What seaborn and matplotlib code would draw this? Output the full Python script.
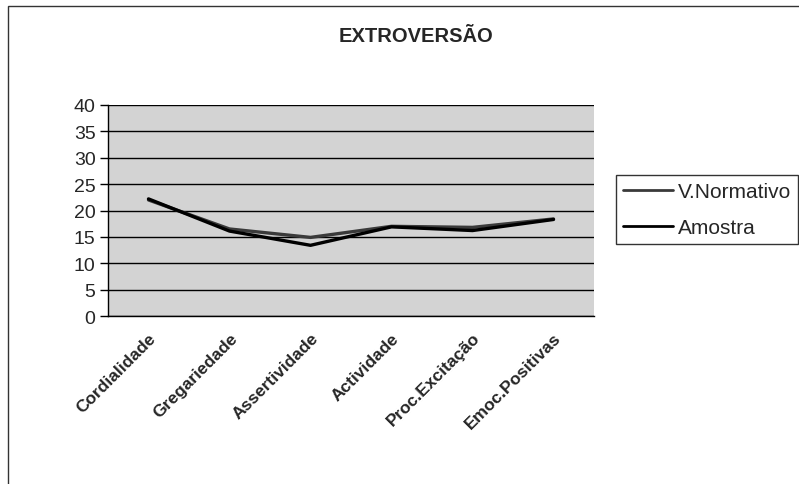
import seaborn as sns
import pandas as pd
import matplotlib.pyplot as plt
from matplotlib.patches import Rectangle
from matplotlib.lines import Line2D

categories = ['Cordialidade', 'Gregariedade', 'Assertividade', 'Actividade',
              'Proc.Excitação', 'Emoc.Positivas']
v_normativo = [22.0, 16.5, 14.9, 17.0, 16.8, 18.4]
amostra = [22.2, 16.1, 13.4, 16.9, 16.2, 18.3]
y_ticks = [0, 5, 10, 15, 20, 25, 30, 35, 40]

rows = []
for i, cat in enumerate(categories):
    rows.append({'Categoria': i, 'Valor': v_normativo[i], 'Série': 'V.Normativo'})
    rows.append({'Categoria': i, 'Valor': amostra[i], 'Série': 'Amostra'})
df = pd.DataFrame(rows)

sns.set_style('white')
plt.rcParams['font.family'] = ['Liberation Sans', 'DejaVu Sans']

colors = {'V.Normativo': '#3a3a3a', 'Amostra': '#000000'}

fig = plt.figure(figsize=(7.99, 4.85), dpi=100)
ax = fig.add_axes([108 / 799, 1 - 317 / 485, 486 / 799, 211 / 485])
ax.set_facecolor('#d3d3d3')

sns.lineplot(data=df, x='Categoria', y='Valor', hue='Série',
             palette=colors, linewidth=2.4, ax=ax, legend=False)

ax.set_xlim(-0.5, len(categories) - 0.5)
ax.set_ylim(0, 40)
ax.set_yticks(y_ticks)
ax.set_yticklabels([str(t) for t in y_ticks], fontsize=14)
ax.yaxis.grid(True, color='black', linewidth=1)
ax.set_axisbelow(True)
ax.set_xticks(range(len(categories)))
ax.set_xticklabels(categories, rotation=45, ha='right', rotation_mode='anchor',
                   fontsize=12.5, fontweight='bold')
ax.tick_params(axis='x', length=0, pad=10)
ax.set_xticks([i - 0.5 for i in range(len(categories) + 1)], minor=True)
ax.tick_params(axis='x', which='minor', length=6, width=1, color='black', direction='out')
ax.tick_params(axis='y', length=6, width=1, color='black', direction='out', left=True, pad=3)
ax.set_xlabel('')
ax.set_ylabel('')
for side in ['top', 'right']:
    ax.spines[side].set_visible(False)
for side in ['left', 'bottom']:
    ax.spines[side].set_color('black')
    ax.spines[side].set_linewidth(1)

fig.text(416 / 799, 1 - 37 / 485, 'EXTROVERSÃO', ha='center', va='center',
         fontsize=14.5, fontweight='bold')

# legend
handles = [Line2D([], [], color=colors['V.Normativo'], linewidth=2),
           Line2D([], [], color=colors['Amostra'], linewidth=2)]
leg = fig.legend(handles, ['V.Normativo', 'Amostra'], loc='upper left',
                 bbox_to_anchor=(616 / 799, 1 - 176 / 485), fontsize=15,
                 frameon=True, fancybox=False, handlelength=2.4,
                 handletextpad=0.2, borderpad=0.35, labelspacing=0.8,
                 borderaxespad=0)
leg.get_frame().set_edgecolor('black')
leg.get_frame().set_linewidth(1)

# outer chart border
fig.patches.append(Rectangle((8 / 799, -0.1), 1.0, 1 - 7 / 485 + 0.1,
                             transform=fig.transFigure, fill=False,
                             edgecolor='#333333', linewidth=1))

fig.savefig('out.png', dpi=100)
